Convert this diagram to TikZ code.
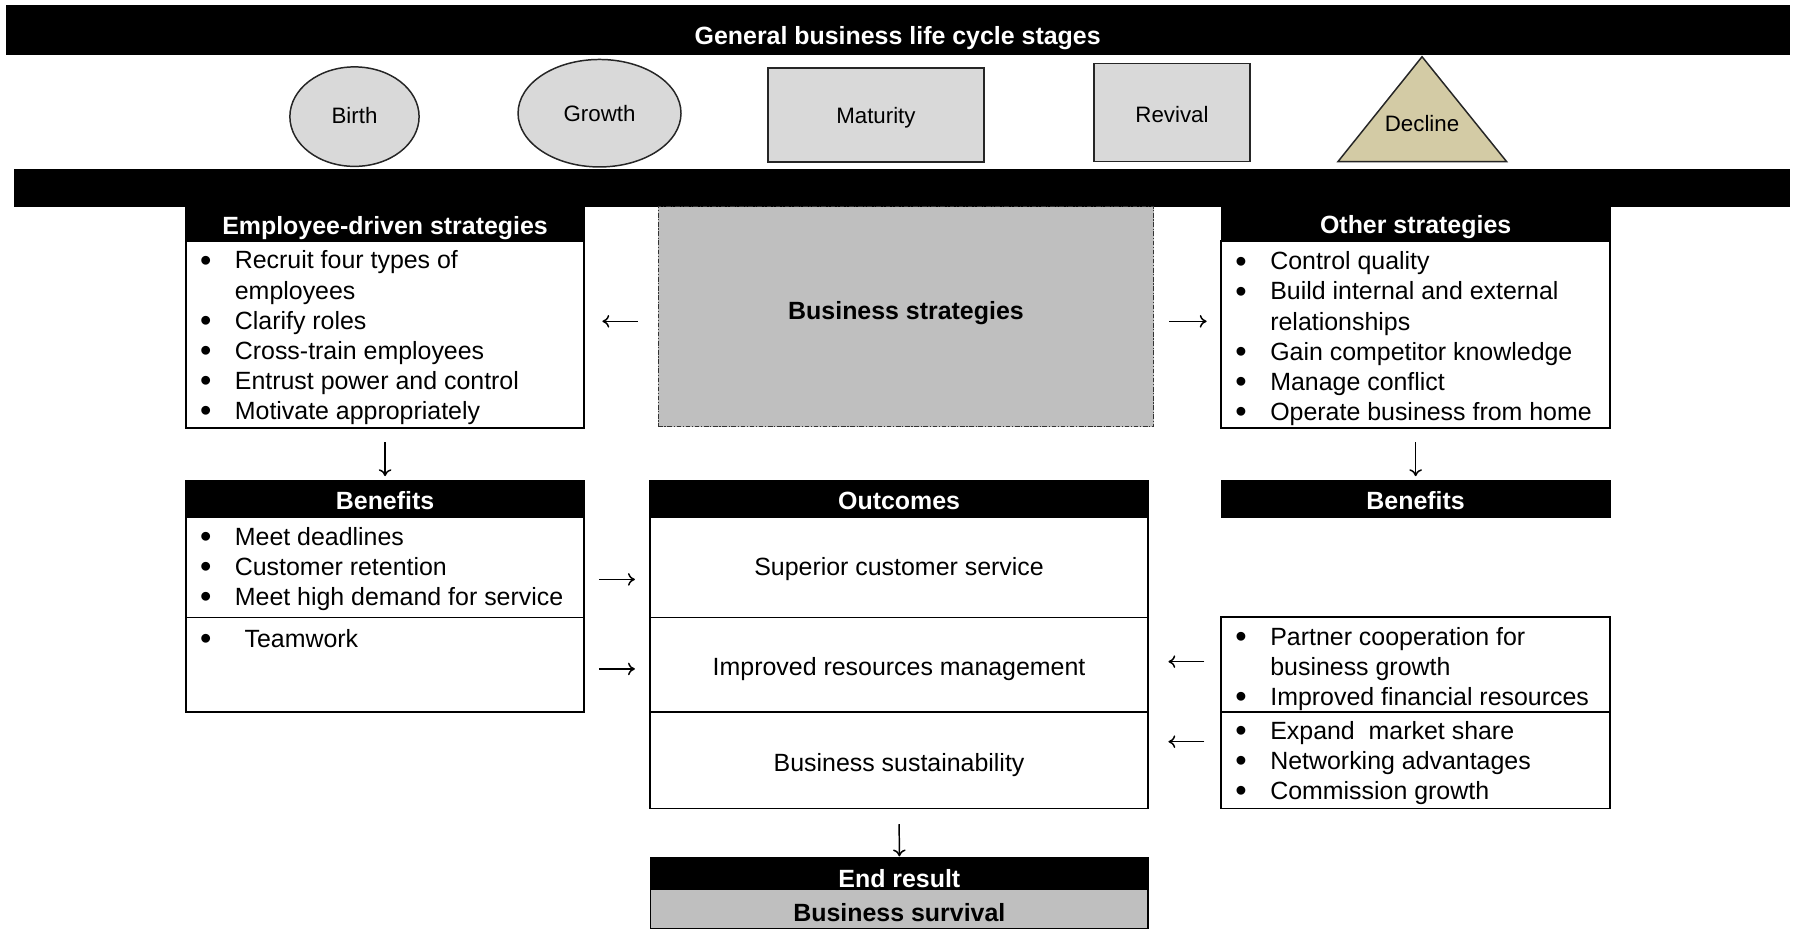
\documentclass[tikz,border=0pt]{standalone}
\usepackage{fontspec}
\setmainfont{Liberation Sans}
\usetikzlibrary{arrows.meta,shapes.geometric}
\definecolor{stagegray}{HTML}{D9D9D9}
\definecolor{boxgray}{HTML}{BFBFBF}
\definecolor{khaki}{HTML}{D3CBA5}
\newcommand\bitem[1]{\par\noindent\hangindent=43.5pt\hangafter=1\hspace*{18pt}\makebox[0pt]{\raisebox{-2pt}{\scalebox{1.3}{\textbullet}}}\hspace*{25.5pt}#1}
\newcommand\blist[1]{\parbox[t]{420pt}{\raggedright\fontsize{21.8pt}{26.3pt}\selectfont\lineskiplimit=-100pt #1}}
\begin{document}
\begin{tikzpicture}[x=1pt,y=-1pt,
  font=\fontsize{21.8pt}{26.3pt}\selectfont,
  bar/.style={fill=black, draw=none, inner sep=0},
  hdr/.style={fill=black, draw=black, line width=1.2pt, inner sep=0, text=white, font=\fontsize{21.8pt}{26pt}\selectfont\bfseries},
  bx/.style={draw=black, line width=1.6pt, inner sep=0, fill=white},
  stage/.style={draw=black!85, line width=1.3pt, fill=stagegray, inner sep=0, font=\fontsize{19.5pt}{22pt}\selectfont},
  arr/.style={line width=1.3pt, -{Computer Modern Rightarrow[length=6pt,width=11pt]}},
  lst/.style={anchor=base west, inner sep=0}
]
\useasboundingbox (0,0) rectangle (1568,812);

% top bar and stages
\node[bar, minimum width=1560pt, minimum height=43.6pt, text=white, font=\fontsize{21.8pt}{26pt}\selectfont\bfseries, text height=26pt, text depth=0pt] (top) at (785,26.2) {General business life cycle stages};
\node[stage, ellipse, minimum width=113pt, minimum height=87pt, text height=12.5pt, text depth=0pt] (birth) at (310,102) {Birth};
\node[stage, ellipse, minimum width=142.5pt, minimum height=94pt, text height=15pt, text depth=0pt] (growth) at (524.3,99) {Growth};
\node[stage, rectangle, minimum width=189pt, minimum height=82pt, text height=15.5pt, text depth=0pt] (maturity) at (766,100.6) {Maturity};
\node[stage, rectangle, minimum width=136.3pt, minimum height=86pt, text height=17pt, text depth=0pt] (revival) at (1024.9,98.4) {Revival};
\draw[draw=black!85, line width=1.3pt, fill=khaki] (1243.6,49.6) -- (1317.6,141.4) -- (1170,141.4) -- cycle;
\node[anchor=base, inner sep=0, font=\fontsize{19.5pt}{22pt}\selectfont] (decline) at (1243.6,115) {Decline};

\node[bar, minimum width=1552.5pt, minimum height=33.2pt] (bar2) at (788.75,164.4) {};

% employee-driven strategies
\node[hdr, minimum width=348.5pt, minimum height=29.5pt, text height=18pt, text depth=0pt] (emph) at (336.75,195.75) {Employee-driven strategies};
\node[bx, minimum width=348.5pt, minimum height=163.5pt] (emp) at (336.75,292.25) {};
\node[lst] (empl) at ([yshift=-25.5pt]emp.north west) {\blist{\bitem{Recruit four types of\newline employees}\bitem{Clarify roles}\bitem{Cross-train employees}\bitem{Entrust power and control}\bitem{Motivate appropriately}}};

% business strategies
\node[draw=black!80, line width=0.9pt, dash pattern=on 4pt off 1.5pt on 1pt off 1.5pt, fill=boxgray, minimum width=433.4pt, minimum height=192pt, inner sep=0, font=\fontsize{21.8pt}{26pt}\selectfont\bfseries, text height=4pt, text depth=0pt] (bs) at (792.3,277) {Business strategies};

% other strategies
\node[hdr, minimum width=340pt, minimum height=29.8pt, text height=18pt, text depth=0pt] (othh) at (1238,195.6) {Other strategies};
\node[bx, minimum width=340pt, minimum height=163.5pt] (oth) at (1238,292.25) {};
\node[lst] (othl) at ([yshift=-26.3pt]oth.north west) {\blist{\bitem{Control quality}\bitem{Build internal and external\newline relationships}\bitem{Gain competitor knowledge}\bitem{Manage conflict}\bitem{Operate business from home}}};

% left benefits
\node[hdr, minimum width=348.5pt, minimum height=31.5pt, text height=18.9pt, text depth=0pt] (lbenh) at (336.75,436.25) {Benefits};
\node[bx, minimum width=348.5pt, minimum height=88pt] (lben1) at (336.75,496) {};
\node[bx, minimum width=348.5pt, minimum height=83pt] (lben2) at (336.75,581.5) {};
\node[lst] (lb1l) at ([yshift=-25.7pt]lben1.north west) {\blist{\bitem{Meet deadlines}\bitem{Customer retention}\bitem{Meet high demand for service}}};
\node[lst] (lb2l) at ([yshift=-26.7pt]lben2.north west) {\blist{\bitem{\hspace*{8.5pt}Teamwork}}};

% outcomes
\node[hdr, minimum width=435.5pt, minimum height=31.5pt, text height=18.9pt, text depth=0pt] (outh) at (786.25,436.25) {Outcomes};
\node[bx, minimum width=435.5pt, minimum height=88pt, text height=15.2pt, text depth=0pt] (out1) at (786.25,496) {Superior customer service};
\node[bx, minimum width=435.5pt, minimum height=82.5pt, text height=18.5pt, text depth=0pt] (out2) at (786.25,581.25) {Improved resources management};
\node[bx, minimum width=435.5pt, minimum height=84.5pt, text height=20.5pt, text depth=0pt] (out3) at (786.25,664.75) {Business sustainability};

% right benefits
\node[hdr, minimum width=340pt, minimum height=31.5pt, text height=18.9pt, text depth=0pt] (rbenh) at (1238,436.25) {Benefits};
\node[bx, minimum width=340pt, minimum height=83.7pt] (rben1) at (1238,581.15) {};
\node[bx, minimum width=340pt, minimum height=84pt] (rben2) at (1238,665) {};
\node[lst] (rb1l) at ([yshift=-26pt]rben1.north west) {\blist{\bitem{Partner cooperation for\newline business growth}\bitem{Improved financial resources}}};
\node[lst] (rb2l) at ([yshift=-24.3pt]rben2.north west) {\blist{\bitem{Expand\ \ market share}\bitem{Networking advantages}\bitem{Commission growth}}};

% end result
\node[hdr, minimum width=435pt, minimum height=28pt, text height=24.8pt, text depth=0pt] (endh) at (786.5,764) {End result};
\node[draw=black, line width=1.4pt, fill=boxgray, inner sep=0, minimum width=435pt, minimum height=34pt, font=\fontsize{21.8pt}{26pt}\selectfont\bfseries, text height=21pt, text depth=0pt] (surv) at (786.5,795) {Business survival};

% arrows
\draw[arr, transform canvas={yshift=-4pt}, shorten <=17.6pt, shorten >=15pt] (bs.west) -- (bs.west -| emp.east);
\draw[arr, transform canvas={yshift=-4pt}, shorten <=13pt, shorten >=12pt] (bs.east) -- (bs.east -| oth.west);
\draw[arr, shorten <=12pt, shorten >=3.5pt] (emp.south) -- (lbenh.north);
\draw[arr, shorten <=12pt, shorten >=3.5pt] (oth.south) -- (rbenh.north);
\draw[arr, transform canvas={yshift=-10.7pt}, shorten <=12pt, shorten >=12.5pt] (lben1.east) -- (lben1.east -| out1.west);
\draw[arr, transform canvas={yshift=-3.5pt}, shorten <=12pt, shorten >=12.5pt] (lben2.east) -- (lben2.east -| out2.west);
\draw[arr, transform canvas={yshift=2.55pt}, shorten <=14pt, shorten >=17pt] (rben1.west) -- (rben1.west -| out2.east);
\draw[arr, transform canvas={yshift=16.4pt}, shorten <=14pt, shorten >=17pt] (rben2.west) -- (rben2.west -| out3.east);
\draw[arr, shorten <=13pt, shorten >=0.5pt] (out3.south) -- (endh.north);
\end{tikzpicture}
\end{document}
